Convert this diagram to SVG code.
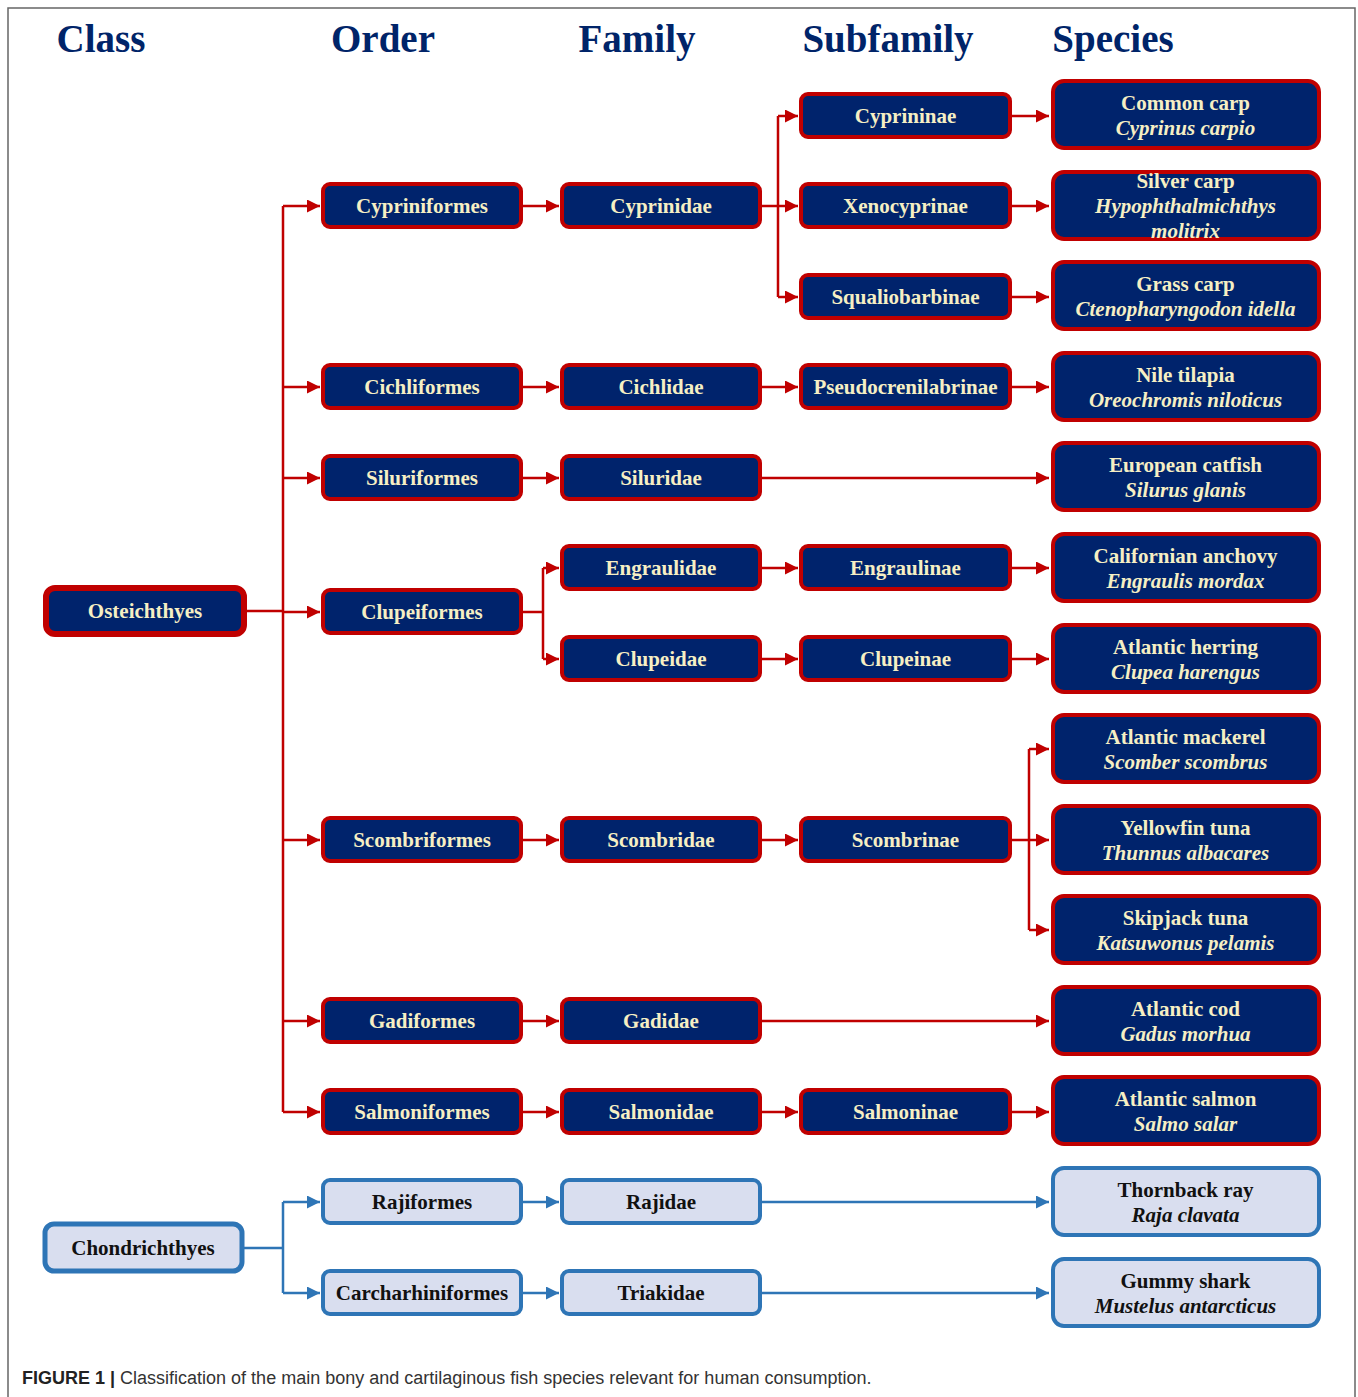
<svg xmlns="http://www.w3.org/2000/svg" width="1358" height="1397" viewBox="0 0 1358 1397">
<defs>
<style>
.hdr{font-family:"Liberation Serif","Times New Roman",serif;font-weight:bold;font-size:39px;fill:#002469;text-anchor:middle}
.rn rect{fill:#00236c;stroke:#c00000;stroke-width:4}
.bn rect{fill:#d9deef;stroke:#2e75b6;stroke-width:4}
.rn text,.bn text{font-family:"Liberation Serif","Times New Roman",serif;font-weight:bold;font-size:21px;text-anchor:middle}
.rn text{fill:#f6efc4}
.bn text{fill:#111}
.it{font-style:italic}
.rc{fill:none;stroke:#c00000;stroke-width:2.5}
.bc{fill:none;stroke:#2e75b6;stroke-width:2.5}
.cap{font-family:"Liberation Sans",Arial,sans-serif;font-size:18px;fill:#333}
</style>
<marker id="ar" markerUnits="userSpaceOnUse" markerWidth="13" markerHeight="13" refX="13" refY="6.5" orient="auto"><path d="M0,0 L13,6.5 L0,13 z" fill="#c00000"/></marker>
<marker id="ab" markerUnits="userSpaceOnUse" markerWidth="13" markerHeight="13" refX="13" refY="6.5" orient="auto"><path d="M0,0 L13,6.5 L0,13 z" fill="#2e75b6"/></marker>
</defs>
<rect width="1358" height="1397" fill="#fff"/>
<path d="M8,1397 V8 H1355 V1397" fill="none" stroke="#666" stroke-width="1.5"/>
<g id="headers">
<text class="hdr" x="101" y="52">Class</text>
<text class="hdr" x="383" y="52">Order</text>
<text class="hdr" x="637" y="52">Family</text>
<text class="hdr" x="888" y="52">Subfamily</text>
<text class="hdr" x="1113" y="52">Species</text>
</g>
<g id="connectors">
<path class="rc" d="M245,611 H283 M283,206 V1112"/>
<path class="rc" marker-end="url(#ar)" d="M283,206 H320"/>
<path class="rc" marker-end="url(#ar)" d="M283,387 H320"/>
<path class="rc" marker-end="url(#ar)" d="M283,478 H320"/>
<path class="rc" marker-end="url(#ar)" d="M283,612 H320"/>
<path class="rc" marker-end="url(#ar)" d="M283,840 H320"/>
<path class="rc" marker-end="url(#ar)" d="M283,1021 H320"/>
<path class="rc" marker-end="url(#ar)" d="M283,1112 H320"/>
<path class="rc" marker-end="url(#ar)" d="M522,206 H559"/>
<path class="rc" marker-end="url(#ar)" d="M522,387 H559"/>
<path class="rc" marker-end="url(#ar)" d="M522,478 H559"/>
<path class="rc" marker-end="url(#ar)" d="M522,840 H559"/>
<path class="rc" marker-end="url(#ar)" d="M522,1021 H559"/>
<path class="rc" marker-end="url(#ar)" d="M522,1112 H559"/>
<path class="rc" d="M522,612 H543 M543,568 V659"/>
<path class="rc" marker-end="url(#ar)" d="M543,568 H559"/>
<path class="rc" marker-end="url(#ar)" d="M543,659 H559"/>
<path class="rc" d="M761,206 H778 M778,116 V297"/>
<path class="rc" marker-end="url(#ar)" d="M778,116 H798"/>
<path class="rc" marker-end="url(#ar)" d="M778,206 H798"/>
<path class="rc" marker-end="url(#ar)" d="M778,297 H798"/>
<path class="rc" marker-end="url(#ar)" d="M761,387 H798"/>
<path class="rc" marker-end="url(#ar)" d="M761,568 H798"/>
<path class="rc" marker-end="url(#ar)" d="M761,659 H798"/>
<path class="rc" marker-end="url(#ar)" d="M761,840 H798"/>
<path class="rc" marker-end="url(#ar)" d="M761,1112 H798"/>
<path class="rc" marker-end="url(#ar)" d="M761,478 H1049"/>
<path class="rc" marker-end="url(#ar)" d="M761,1021 H1049"/>
<path class="rc" marker-end="url(#ar)" d="M1011,116 H1049"/>
<path class="rc" marker-end="url(#ar)" d="M1011,206 H1049"/>
<path class="rc" marker-end="url(#ar)" d="M1011,297 H1049"/>
<path class="rc" marker-end="url(#ar)" d="M1011,387 H1049"/>
<path class="rc" marker-end="url(#ar)" d="M1011,568 H1049"/>
<path class="rc" marker-end="url(#ar)" d="M1011,659 H1049"/>
<path class="rc" marker-end="url(#ar)" d="M1011,1112 H1049"/>
<path class="rc" d="M1011,840 H1029 M1029,749 V930"/>
<path class="rc" marker-end="url(#ar)" d="M1029,749 H1049"/>
<path class="rc" marker-end="url(#ar)" d="M1029,840 H1049"/>
<path class="rc" marker-end="url(#ar)" d="M1029,930 H1049"/>
<path class="bc" d="M243,1248 H283 M283,1202 V1293"/>
<path class="bc" marker-end="url(#ab)" d="M283,1202 H320"/>
<path class="bc" marker-end="url(#ab)" d="M283,1293 H320"/>
<path class="bc" marker-end="url(#ab)" d="M522,1202 H559"/>
<path class="bc" marker-end="url(#ab)" d="M522,1293 H559"/>
<path class="bc" marker-end="url(#ab)" d="M761,1202 H1049"/>
<path class="bc" marker-end="url(#ab)" d="M761,1293 H1049"/>
</g>
<g id="osteichthyes" class="rn"><rect x="46" y="588" width="198" height="46" rx="9" style="stroke-width:6"/><text x="145" y="618">Osteichthyes</text></g>
<g id="chondrichthyes" class="bn"><rect x="45" y="1224" width="197" height="47" rx="9" style="stroke-width:5"/><text x="143" y="1255">Chondrichthyes</text></g>
<g id="cypriniformes" class="rn"><rect x="323" y="184" width="198" height="43" rx="7"/><text x="422" y="213">Cypriniformes</text></g>
<g id="cichliformes" class="rn"><rect x="323" y="365" width="198" height="43" rx="7"/><text x="422" y="394">Cichliformes</text></g>
<g id="siluriformes" class="rn"><rect x="323" y="456" width="198" height="43" rx="7"/><text x="422" y="485">Siluriformes</text></g>
<g id="clupeiformes" class="rn"><rect x="323" y="590" width="198" height="43" rx="7"/><text x="422" y="619">Clupeiformes</text></g>
<g id="scombriformes" class="rn"><rect x="323" y="818" width="198" height="43" rx="7"/><text x="422" y="847">Scombriformes</text></g>
<g id="gadiformes" class="rn"><rect x="323" y="999" width="198" height="43" rx="7"/><text x="422" y="1028">Gadiformes</text></g>
<g id="salmoniformes" class="rn"><rect x="323" y="1090" width="198" height="43" rx="7"/><text x="422" y="1119">Salmoniformes</text></g>
<g id="rajiformes" class="bn"><rect x="323" y="1180" width="198" height="43" rx="7"/><text x="422" y="1209">Rajiformes</text></g>
<g id="carcharhiniformes" class="bn"><rect x="323" y="1271" width="198" height="43" rx="7"/><text x="422" y="1300">Carcharhiniformes</text></g>
<g id="cyprinidae" class="rn"><rect x="562" y="184" width="198" height="43" rx="7"/><text x="661" y="213">Cyprinidae</text></g>
<g id="cichlidae" class="rn"><rect x="562" y="365" width="198" height="43" rx="7"/><text x="661" y="394">Cichlidae</text></g>
<g id="siluridae" class="rn"><rect x="562" y="456" width="198" height="43" rx="7"/><text x="661" y="485">Siluridae</text></g>
<g id="engraulidae" class="rn"><rect x="562" y="546" width="198" height="43" rx="7"/><text x="661" y="575">Engraulidae</text></g>
<g id="clupeidae" class="rn"><rect x="562" y="637" width="198" height="43" rx="7"/><text x="661" y="666">Clupeidae</text></g>
<g id="scombridae" class="rn"><rect x="562" y="818" width="198" height="43" rx="7"/><text x="661" y="847">Scombridae</text></g>
<g id="gadidae" class="rn"><rect x="562" y="999" width="198" height="43" rx="7"/><text x="661" y="1028">Gadidae</text></g>
<g id="salmonidae" class="rn"><rect x="562" y="1090" width="198" height="43" rx="7"/><text x="661" y="1119">Salmonidae</text></g>
<g id="rajidae" class="bn"><rect x="562" y="1180" width="198" height="43" rx="7"/><text x="661" y="1209">Rajidae</text></g>
<g id="triakidae" class="bn"><rect x="562" y="1271" width="198" height="43" rx="7"/><text x="661" y="1300">Triakidae</text></g>
<g id="cyprininae" class="rn"><rect x="801" y="94" width="209" height="43" rx="7"/><text x="905.5" y="123">Cyprininae</text></g>
<g id="xenocyprinae" class="rn"><rect x="801" y="184" width="209" height="43" rx="7"/><text x="905.5" y="213">Xenocyprinae</text></g>
<g id="squaliobarbinae" class="rn"><rect x="801" y="275" width="209" height="43" rx="7"/><text x="905.5" y="304">Squaliobarbinae</text></g>
<g id="pseudocrenilabrinae" class="rn"><rect x="801" y="365" width="209" height="43" rx="7"/><text x="905.5" y="394">Pseudocrenilabrinae</text></g>
<g id="engraulinae" class="rn"><rect x="801" y="546" width="209" height="43" rx="7"/><text x="905.5" y="575">Engraulinae</text></g>
<g id="clupeinae" class="rn"><rect x="801" y="637" width="209" height="43" rx="7"/><text x="905.5" y="666">Clupeinae</text></g>
<g id="scombrinae" class="rn"><rect x="801" y="818" width="209" height="43" rx="7"/><text x="905.5" y="847">Scombrinae</text></g>
<g id="salmoninae" class="rn"><rect x="801" y="1090" width="209" height="43" rx="7"/><text x="905.5" y="1119">Salmoninae</text></g>
<g id="common-carp" class="rn"><rect x="1053" y="81" width="266" height="67" rx="11"/><text x="1185.5" y="110">Common carp</text><text class="it" x="1185.5" y="135">Cyprinus carpio</text></g>
<g id="silver-carp" class="rn"><rect x="1053" y="172" width="266" height="67" rx="11"/><text x="1185.5" y="188">Silver carp</text><text class="it" x="1185.5" y="213">Hypophthalmichthys</text><text class="it" x="1185.5" y="238">molitrix</text></g>
<g id="grass-carp" class="rn"><rect x="1053" y="262" width="266" height="67" rx="11"/><text x="1185.5" y="291">Grass carp</text><text class="it" x="1185.5" y="316">Ctenopharyngodon idella</text></g>
<g id="nile-tilapia" class="rn"><rect x="1053" y="353" width="266" height="67" rx="11"/><text x="1185.5" y="382">Nile tilapia</text><text class="it" x="1185.5" y="407">Oreochromis niloticus</text></g>
<g id="european-catfish" class="rn"><rect x="1053" y="443" width="266" height="67" rx="11"/><text x="1185.5" y="472">European catfish</text><text class="it" x="1185.5" y="497">Silurus glanis</text></g>
<g id="californian-anchovy" class="rn"><rect x="1053" y="534" width="266" height="67" rx="11"/><text x="1185.5" y="563">Californian anchovy</text><text class="it" x="1185.5" y="588">Engraulis mordax</text></g>
<g id="atlantic-herring" class="rn"><rect x="1053" y="625" width="266" height="67" rx="11"/><text x="1185.5" y="654">Atlantic herring</text><text class="it" x="1185.5" y="679">Clupea harengus</text></g>
<g id="atlantic-mackerel" class="rn"><rect x="1053" y="715" width="266" height="67" rx="11"/><text x="1185.5" y="744">Atlantic mackerel</text><text class="it" x="1185.5" y="769">Scomber scombrus</text></g>
<g id="yellowfin-tuna" class="rn"><rect x="1053" y="806" width="266" height="67" rx="11"/><text x="1185.5" y="835">Yellowfin tuna</text><text class="it" x="1185.5" y="860">Thunnus albacares</text></g>
<g id="skipjack-tuna" class="rn"><rect x="1053" y="896" width="266" height="67" rx="11"/><text x="1185.5" y="925">Skipjack tuna</text><text class="it" x="1185.5" y="950">Katsuwonus pelamis</text></g>
<g id="atlantic-cod" class="rn"><rect x="1053" y="987" width="266" height="67" rx="11"/><text x="1185.5" y="1016">Atlantic cod</text><text class="it" x="1185.5" y="1041">Gadus morhua</text></g>
<g id="atlantic-salmon" class="rn"><rect x="1053" y="1077" width="266" height="67" rx="11"/><text x="1185.5" y="1106">Atlantic salmon</text><text class="it" x="1185.5" y="1131">Salmo salar</text></g>
<g id="thornback-ray" class="bn"><rect x="1053" y="1168" width="266" height="67" rx="11"/><text x="1185.5" y="1197">Thornback ray</text><text class="it" x="1185.5" y="1222">Raja clavata</text></g>
<g id="gummy-shark" class="bn"><rect x="1053" y="1259" width="266" height="67" rx="11"/><text x="1185.5" y="1288">Gummy shark</text><text class="it" x="1185.5" y="1313">Mustelus antarcticus</text></g>
<text class="cap" x="22" y="1384"><tspan font-weight="bold" fill="#222">FIGURE 1 |</tspan> Classification of the main bony and cartilaginous fish species relevant for human consumption.</text>
</svg>
